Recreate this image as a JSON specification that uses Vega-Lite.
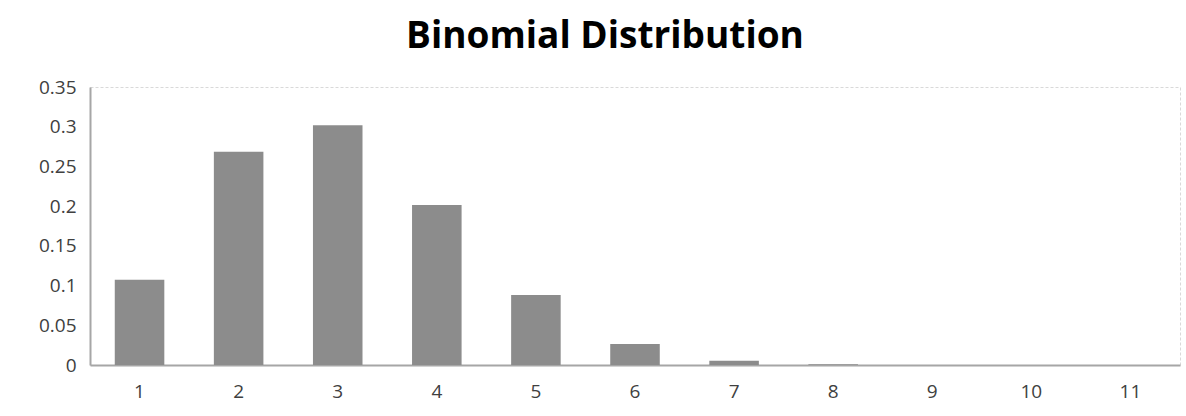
{
  "$schema": "https://vega.github.io/schema/vega-lite/v6.json",
  "autosize": "none",
  "width": 1090,
  "height": 278,
  "padding": {"left": 90, "top": 87, "right": 6, "bottom": 51},
  "background": "white",
  "title": {
    "text": "Binomial Distribution",
    "font": "Open Sans",
    "fontWeight": "bold",
    "fontSize": 37,
    "color": "#000000",
    "anchor": "middle",
    "dx": -30,
    "offset": 22
  },
  "data": {
    "values": [
      {"k": "1", "p": 0.1074},
      {"k": "2", "p": 0.2684},
      {"k": "3", "p": 0.3020},
      {"k": "4", "p": 0.2013},
      {"k": "5", "p": 0.0881},
      {"k": "6", "p": 0.0264},
      {"k": "7", "p": 0.0055},
      {"k": "8", "p": 0.00079},
      {"k": "9", "p": 0.0000737},
      {"k": "10", "p": 0.0000041},
      {"k": "11", "p": 0.0000001}
    ]
  },
  "mark": {"type": "bar", "color": "#8c8c8c"},
  "encoding": {
    "x": {
      "field": "k",
      "type": "ordinal",
      "sort": null,
      "scale": {"paddingInner": 0.5, "paddingOuter": 0.25},
      "axis": {
        "title": null,
        "labelAngle": 0,
        "ticks": false,
        "labelPadding": 17,
        "labelFont": "Open Sans",
        "labelFontSize": 19,
        "labelColor": "#404040",
        "domainColor": "#a6a6a6",
        "domainWidth": 2
      }
    },
    "y": {
      "field": "p",
      "type": "quantitative",
      "scale": {"domain": [0, 0.35], "nice": false},
      "axis": {
        "title": null,
        "values": [0, 0.05, 0.1, 0.15, 0.2, 0.25, 0.3, 0.35],
        "format": "~g",
        "ticks": false,
        "grid": false,
        "labelPadding": 14,
        "labelFont": "Open Sans",
        "labelFontSize": 19,
        "labelColor": "#404040",
        "domainColor": "#a6a6a6",
        "domainWidth": 2
      }
    }
  },
  "config": {
    "view": {"stroke": "#d9d9d9", "strokeDash": [3, 2], "strokeWidth": 1}
  }
}
